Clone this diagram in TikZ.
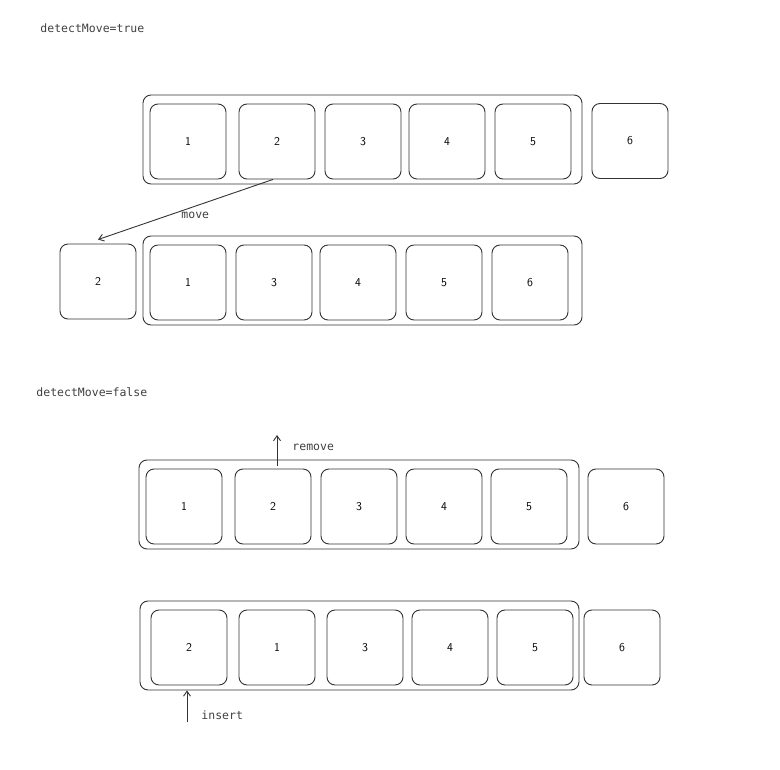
\documentclass[tikz,border=0pt]{standalone}
\usepackage{fontspec}
\setmonofont{DejaVu Sans Mono}
\usetikzlibrary{arrows.meta}
\tikzset{
    cell/.style={draw, rounded corners=8pt, minimum width=76pt, minimum height=75pt, inner sep=0pt, font=\sffamily\fontsize{12}{14}\selectfont},
    frame/.style={draw, rounded corners=8pt, inner sep=0pt},
    note/.style={font=\ttfamily\fontsize{11.5}{13}\selectfont, anchor=west, inner sep=0pt, text=black!75},
    arr/.style={-{Straight Barb[length=5pt,width=7pt]}}
}
\begin{document}
\begin{tikzpicture}[x=1pt, y=-1pt, line width=0.9pt, draw=black!80]
    \useasboundingbox (0,0) rectangle (780,770);
    %% detectMove=true
    \node[note] (ltrue) at (40,28) {detectMove=true};
    \node[frame, minimum width=439pt, minimum height=89pt] (atop) at (362.5,139.5) {};
    \foreach \n/\x in {1/188, 2/277, 3/363, 4/447, 5/533}
        \node[cell] (a\n) at (\x,141.5) {\n};
    \node[cell] (a6) at (630,141) {6};
    \node[cell] (b2) at (98,281.5) {2};
    \node[frame, minimum width=439pt, minimum height=89pt] (btop) at (362.5,280.5) {};
    \foreach \n/\x in {1/188, 3/274, 4/358, 5/444, 6/530}
        \node[cell] (b\n) at (\x,282.5) {\n};
    \draw[arr] ([xshift=-4pt]a2.south) -- ([yshift=4pt]b2.north);
    \node[note] (lmove) at (181,215) {move};
    %% detectMove=false
    \node[note] (lfalse) at (36,392) {detectMove=false};
    \node[frame, minimum width=440pt, minimum height=89pt] (ctop) at (359,504.5) {};
    \foreach \n/\x in {1/184, 2/273, 3/359, 4/444, 5/529}
        \node[cell] (c\n) at (\x,506.5) {\n};
    \node[cell] (c6) at (626,506.5) {6};
    \coordinate (rmtip) at (277,435);
    \draw[arr] (rmtip |- ctop.north) ++(0,6) -- (rmtip);
    \node[note] (lremove) at (292,447) {remove};
    \node[frame, minimum width=439pt, minimum height=89pt] (dtop) at (359.5,645.5) {};
    \foreach \n/\x in {2/189, 1/277, 3/365, 4/450, 5/535}
        \node[cell] (d\n) at (\x,647.5) {\n};
    \node[cell] (d6) at (622,647.5) {6};
    \coordinate (intail) at (187,722);
    \draw[arr] (intail) -- (intail |- dtop.south);
    \node[note] (linsert) at (201,715) {insert};
\end{tikzpicture}
\end{document}
